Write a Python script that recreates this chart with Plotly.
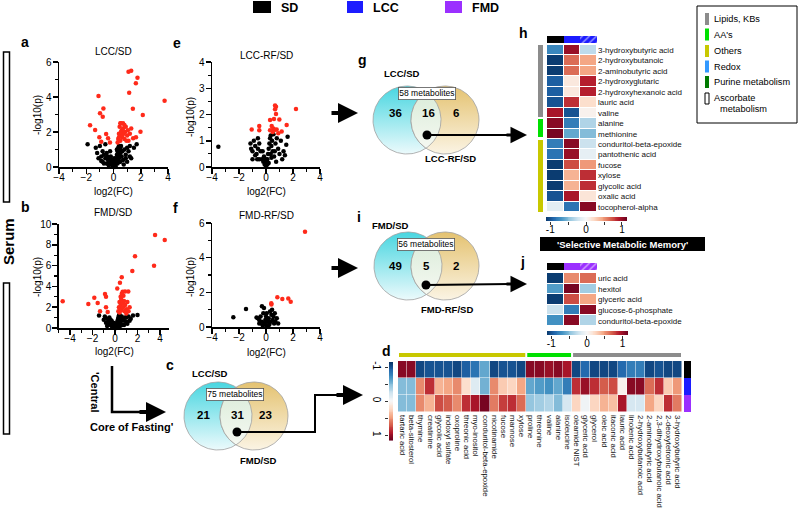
import numpy as np
import plotly.graph_objects as go

W, H = 798, 511
FONT = "Liberation Sans, Arial, sans-serif"

# ---------------- data ----------------
# volcano a: LCC/SD  (log2FC, -log10 p)
a_red = [(1.1,5.45),(1.3,5.5),(1.76,5.1),(1.64,4.78),(1.15,4.25),(3.75,3.79),(-1.1,4.06),(-0.74,3.35),
         (-0.99,3.07),(-0.79,2.87),(1.42,3.33),(2.15,2.97),(-1.72,2.38),(-1.35,2.11),(-0.54,1.89),(-1.04,1.70),
         (-0.4,1.65),(-0.9,1.45),(-0.26,1.4),(1.98,2.02),(1.65,1.7),(1.44,1.65),(0.3,1.4),(0.35,1.6),(0.4,1.9),
         (0.45,2.3),(0.5,2.5),(0.55,2.5),(0.6,2.1),(0.65,1.7),(0.7,2.2),(0.75,1.9),(0.8,1.6),(0.85,2.0),(0.9,2.3),
         (1.0,1.8),(1.05,2.1),(1.1,1.5),(0.5,1.5),(0.6,1.8),(0.7,2.5),(0.95,1.5),(1.2,1.9),(0.4,1.7),(0.55,2.0),
         (0.8,2.4),(1.3,2.2)]
a_black = [(-1.9,1.3),(-1.3,1.1),(-1.0,1.2),(-0.8,0.9),(-0.7,0.7),(-0.9,0.6),(-1.1,0.5),(-0.6,0.5),(-0.5,0.8),
           (-0.4,0.4),(-0.3,0.3),(-0.2,0.2),(-0.1,0.1),(0.0,0.05),(0.05,0.1),(0.1,0.15),(0.15,0.3),(0.2,0.5),
           (0.25,0.7),(0.3,0.9),(0.35,1.1),(0.4,1.2),(0.45,1.0),(0.5,0.8),(0.55,1.2),(0.6,0.6),(0.7,0.4),(0.8,1.0),
           (0.9,0.7),(1.0,0.3),(1.1,0.9),(1.2,0.6),(1.3,0.5),(1.5,1.1),(1.7,1.3),(1.2,1.2),(-0.6,1.3),(-0.2,0.6),
           (-0.35,0.1),(0.15,0.05),(-0.15,0.4),(0.2,0.2),(0.1,0.4),(0.3,0.5),(-0.5,0.2),(-0.8,0.3),(-1.2,0.8),
           (0.45,0.3),(0.65,0.9),(1.0,1.1),(-0.05,0.25),(0.25,1.0),(0.35,0.6),(0.05,0.5),(-0.25,0.9),(0.1,0.0),
           (0.0,0.2),(-0.1,0.3),(0.2,0.35),(0.3,0.2),(0.4,0.5),(0.5,0.3),(-0.3,0.5),(-0.45,0.6),(0.6,0.9),
           (0.35,0.8),(0.5,1.1),(0.42,0.95),(-0.7,0.2),(-0.9,0.35),(0.75,0.15),(0.9,0.5)]
# volcano b: FMD/SD
b_red = [(3.56,8.94),(4.42,8.46),(1.78,6.9),(3.47,5.99),(1.54,5.48),(0.6,4.87),(0.44,4.35),(0.2,3.81),
         (0.68,3.49),(0.89,3.5),(1.18,3.5),(-0.89,3.27),(-0.8,3.0),(-1.84,2.9),(-2.37,2.3),(-1.54,2.4),
         (-1.33,1.6),(-0.8,2.0),(-0.65,1.55),(-4.65,2.58),(0.3,1.6),(0.35,2.0),(0.4,2.5),(0.45,1.8),(0.5,2.2),
         (0.55,2.8),(0.6,1.7),(0.65,2.4),(0.7,2.0),(0.8,2.6),(0.85,1.6),(0.9,2.2),(1.0,1.8),(1.1,2.5),(1.2,1.6),
         (0.5,3.0),(0.75,3.1),(0.4,1.5),(1.3,2.0),(0.6,3.3),(1.0,1.4)]
b_black = [(2.0,1.25),(-1.42,1.2),(-0.9,1.1),(-0.7,0.9),(-0.6,0.6),(-0.5,0.4),(-0.4,0.3),(-0.3,0.2),(-0.2,0.1),
           (-0.1,0.05),(0.0,0.1),(0.1,0.2),(0.15,0.4),(0.2,0.6),(0.25,0.8),(0.3,1.0),(0.35,1.2),(0.4,0.7),
           (0.5,0.5),(0.6,1.1),(0.7,0.8),(0.8,0.3),(0.9,1.0),(1.0,0.6),(1.2,1.1),(1.4,0.9),(1.6,1.2),(-0.8,0.5),
           (-0.3,0.7),(0.05,0.3),(-0.15,0.5),(0.45,0.2),(-0.5,1.0),(0.2,0.15),(1.1,0.4),(-0.05,0.2),(0.3,0.4),
           (0.65,0.3),(1.3,0.7),(-0.7,0.2),(0.1,0.0),(0.0,0.4),(-0.2,0.3),(0.25,0.3),(0.4,1.3),(0.55,0.9),
           (-0.4,0.8),(0.8,0.7),(1.0,1.0),(-1.0,0.8)]
# volcano e: LCC-RF/SD
e_red = [(2.22,2.21),(0.67,2.34),(0.74,2.3),(0.67,2.2),(0.74,2.02),(0.59,1.83),(0.99,1.81),(0.3,1.79),
         (1.53,1.6),(-0.5,1.56),(-0.5,1.4),(-1.06,1.43),(0.42,1.56),(0.54,1.47),(0.67,1.42),(0.79,1.43),
         (1.16,1.35),(0.91,1.29),(0.3,1.4),(0.5,1.33)]
e_black = [(-3.53,0.77),(-1.1,0.7),(-1.0,0.6),(-0.9,1.0),(-0.8,0.8),(-0.7,0.5),(-0.6,1.1),(-0.5,0.9),(-1.0,0.3),
           (-0.8,0.45),(-0.6,0.7),(-0.4,0.6),(-0.3,0.3),(-0.2,0.2),(-0.1,0.1),(0.0,0.05),(0.05,0.2),(0.1,0.3),
           (0.15,0.5),(0.2,0.7),(0.25,0.9),(0.3,1.1),(0.35,1.2),(0.4,0.8),(0.45,1.0),(0.5,0.6),(0.6,0.4),
           (0.7,0.9),(0.8,1.1),(0.9,0.7),(1.0,0.5),(1.2,0.3),(1.4,0.45),(1.5,0.85),(1.6,1.15),(1.1,1.0),
           (-0.15,0.4),(0.0,0.3),(0.2,0.15),(-0.5,0.3),(0.55,1.25),(-0.25,0.6),(0.35,0.5),(0.75,0.2),
           (-1.15,0.9),(-0.65,0.3),(1.3,0.6),(0.1,0.1),(-0.05,0.15),(0.4,0.35),(0.65,0.6)]
# volcano f: FMD-RF/SD
f_red = [(2.89,5.5),(0.84,1.71),(1.21,1.62),(1.65,1.65),(1.83,1.46),(0.39,1.37),(0.4,1.3)]
f_black = [(-2.42,0.56),(-1.48,1.04),(-0.6,0.5),(-0.5,0.4),(-0.4,0.6),(-0.3,0.3),(-0.2,0.8),(-0.1,0.2),
           (0.0,0.1),(0.1,0.3),(0.2,0.5),(0.3,0.9),(0.4,0.7),(0.5,0.4),(0.6,0.2),(0.7,0.3),(0.8,0.5),
           (-0.15,1.1),(-0.3,1.2),(0.0,0.6),(-0.5,0.2),(0.25,0.15),(0.35,0.3),(-0.05,0.4),(0.15,0.05),
           (0.45,1.0),(-0.7,0.55),(0.05,0.8),(-0.25,0.1),(0.55,0.6),(0.9,0.2),(0.65,0.8)]

# heatmap h (SD, LCC, LCC-RF)
h_rows = ["3-hydroxybutyric acid","2-hydroxybutanoic","2-aminobutyric acid","2-hydroxyglutaric",
          "2-hydroxyhexanoic acid","lauric acid","valine","alanine","methionine","conduritol-beta-epoxide",
          "pantothenic acid","fucose","xylose","glycolic acid","oxalic acid","tocopherol-alpha"]
h_sd    = [-0.75,-1.1,-1.1,-0.95,-0.95,-1.0,0.95,1.05,1.1,-0.8,-0.85,-1.1,-1.1,-1.1,-1.0,-0.12]
h_lcc   = [1.0,0.65,0.65,0.12,0.12,0.85,-1.0,-0.8,-0.6,1.05,1.0,0.75,0.4,0.4,0.95,-0.85]
h_lccrf = [-0.3,0.45,0.45,0.9,0.9,0.2,0.05,-0.35,-0.5,-0.25,-0.1,0.5,0.85,0.85,0.15,1.05]

# heatmap j (SD, FMD, FMD-RF)
j_rows = ["uric acid","hexitol","glyceric acid","glucose-6-phosphate","conduritol-beta-epoxide"]
j_sd    = [-1.1,-0.65,-1.1,-0.25,-0.7]
j_fmd   = [0.55,1.1,0.75,-0.8,1.05]
j_fmdrf = [0.65,-0.4,0.45,1.05,-0.35]

# heatmap d (SD, LCC, FMD)
d_cols = ["tartaric acid","beta-sitosterol","thymine","creatinine","glycolic acid","indoxyl sulfate",
          "oxoproline","threonic acid","myo-inositol","conduritol-beta-epoxide","nicotinamide","fucose",
          "mannose","xylose","proline","threonine","valine","alanine","isoleucine","oleamide NIST",
          "glyceric acid","glycerol","oleic acid","itaconic acid","lauric acid","linolenic acid",
          "2-hydroxybutanoic acid","2-aminobutyric acid","2,3-dihydroxybutanoic acid",
          "2-deoxytetronic acid","3-hydroxybutyric acid"]
d_sd  = [1.05,1.05,-1.05,-1.0,-1.0,-1.0,-1.05,-0.95,-0.85,-0.6,-1.05,-1.0,-1.0,-1.05,1.05,1.05,1.0,1.05,
         0.95,-1.05,-0.9,-1.05,-1.05,-1.05,-0.9,-0.8,-0.8,-1.05,-1.0,-1.05,-1.05]
d_lcc = [-0.5,-0.5,0.55,0.85,0.4,0.45,0.55,0.2,-0.15,-0.55,0.55,0.3,0.25,0.45,-0.6,-0.65,-0.7,-0.6,-0.8,
         0.85,1.0,0.85,0.7,0.75,0.05,1.05,1.05,0.65,0.85,0.3,0.5]
d_fmd = [-0.5,-0.5,0.55,0.4,0.75,0.7,0.55,0.85,0.95,1.1,0.6,0.8,0.85,0.65,-0.45,-0.4,-0.35,-0.5,-0.2,
         0.25,-0.05,0.25,0.4,0.35,0.95,-0.2,-0.2,0.45,0.25,0.85,0.6]
d_groups = [("Others", 14), ("AA's", 5), ("Lipids, KBs", 12)]

legend_items = ["Lipids, KBs", "AA's", "Others", "Redox", "Purine metabolism", "Ascorbate"]
venn_g = ("LCC/SD", "LCC-RF/SD", "58 metabolites", "36", "16", "6")
venn_i = ("FMD/SD", "FMD-RF/SD", "56 metabolites", "49", "5", "2")
venn_c = ("LCC/SD", "FMD/SD", "75 metabolites", "21", "31", "23")

# ---------------- styling ----------------
C_SD, C_LCC, C_FMD = "#000000", "#1c1cff", "#9b30ff"
C_LIP, C_AA, C_OTH, C_RED, C_PUR = "#8c8c8c", "#00e000", "#c8c800", "#3399ff", "#007a00"
CS = [[0,'#053061'],[0.1,'#2166ac'],[0.2,'#4393c3'],[0.3,'#92c5de'],[0.4,'#d1e5f0'],[0.5,'#f7f7f7'],
      [0.6,'#fddbc7'],[0.7,'#f4a582'],[0.8,'#d6604d'],[0.9,'#b2182b'],[1,'#67001f']]
ZMIN, ZMAX = -1.15, 1.15

def xd(x0, x1):
    return [x0 / W, x1 / W]

def yd(y0, y1):
    return [1 - y1 / H, 1 - y0 / H]

fig = go.Figure()
layout = {}
OV = dict(xaxis='x13', yaxis='y13')

def akey(kind, i):
    return f"{kind}axis" if i == 1 else f"{kind}axis{i}"

def aref(kind, i):
    return kind if i == 1 else f"{kind}{i}"

axis_common = dict(showline=True, linecolor='black', linewidth=1.5, ticks='outside', ticklen=5,
                   tickwidth=1.5, tickcolor='black', showgrid=False, zeroline=False,
                   tickfont=dict(size=10, color='black', family=FONT), automargin=False, fixedrange=True)

def volcano(i, red, black, xbox, ybox, xr, yr, ydt):
    xa, ya = aref('x', i), aref('y', i)
    for pts, col in ((black, 'black'), (red, '#ff2a1a')):
        fig.add_trace(go.Scatter(x=[p[0] for p in pts], y=[p[1] for p in pts], mode='markers',
                                 marker=dict(size=4.5, color=col, line=dict(width=0)),
                                 xaxis=xa, yaxis=ya, showlegend=False, hoverinfo='skip', cliponaxis=False))
    layout[akey('x', i)] = dict(domain=xd(*xbox), range=xr, anchor=ya, tick0=0, dtick=2, ticklabelstandoff=-5,
                                minor=dict(dtick=1, ticks='outside', ticklen=3, tickcolor='black', tickwidth=1.2),
                                **axis_common)
    layout[akey('y', i)] = dict(domain=yd(*ybox), range=yr, anchor=xa, tick0=0, dtick=ydt, ticklabelstandoff=-1,
                                minor=dict(dtick=ydt / 2, ticks='outside', ticklen=3, tickcolor='black', tickwidth=1.2),
                                **axis_common)

volcano(1, a_red, a_black, (59, 168), (62, 167), [-4, 4], [0, 6], 2)
volcano(2, b_red, b_black, (58.75, 169), (224, 328), [-5, 4.8], [0, 10], 2)
volcano(3, e_red, e_black, (212, 320), (62, 167), [-4, 4], [0, 4], 1)
volcano(4, f_red, f_black, (212, 320), (223, 327), [-4, 4], [0, 6], 2)

hidden = dict(visible=False, fixedrange=True, showgrid=False, zeroline=False, automargin=False)

def heat_block(i, rows, cols_vals, xbox, ybox):
    z = [list(v) for v in zip(*cols_vals)]
    fig.add_trace(go.Heatmap(z=z, x=list(range(len(cols_vals))), y=rows, colorscale=CS, zmin=ZMIN, zmax=ZMAX,
                             showscale=False, xgap=1, ygap=1, xaxis=aref('x', i), yaxis=aref('y', i),
                             hoverinfo='skip'))
    layout[akey('x', i)] = dict(domain=xd(*xbox), anchor=aref('y', i), range=[-0.5, len(cols_vals) - 0.5], **hidden)
    layout[akey('y', i)] = dict(domain=yd(*ybox), anchor=aref('x', i), autorange='reversed', side='right',
                                showticklabels=True, ticks='', showline=False, showgrid=False, zeroline=False,
                                tickfont=dict(size=8, color='#111', family=FONT), automargin=False,
                                fixedrange=True, ticklabelstandoff=0)

def band(i, colors, xbox, ybox):
    fig.add_trace(go.Bar(x=[0, 1, 2], y=[1, 1, 1], width=1, showlegend=False, hoverinfo='skip',
                         marker=dict(color=colors, line=dict(width=0),
                                     pattern=dict(shape=['', '', '/'], fillmode='overlay', size=5, solidity=0.3)),
                         xaxis=aref('x', i), yaxis=aref('y', i)))
    layout[akey('x', i)] = dict(domain=xd(*xbox), anchor=aref('y', i), range=[-0.5, 2.5], **hidden)
    layout[akey('y', i)] = dict(domain=yd(*ybox), anchor=aref('x', i), range=[0, 1], **hidden)

grad = np.linspace(ZMIN, ZMAX, 90)

def hbar(i, xbox, ybox, xr):
    fig.add_trace(go.Heatmap(z=[list(grad)], x=list(grad), y=[0], colorscale=CS, zmin=ZMIN, zmax=ZMAX,
                             showscale=False, xaxis=aref('x', i), yaxis=aref('y', i), hoverinfo='skip'))
    layout[akey('x', i)] = dict(domain=xd(*xbox), anchor=aref('y', i), range=xr, showline=False, showgrid=False,
                                zeroline=False, ticks='outside', ticklen=3, tickwidth=1, tickcolor='#333',
                                tickvals=[-1, -0.5, 0, 0.5, 1], ticktext=['-1', '', '0', '', '1'],
                                ticklabelstandoff=-4,
                                tickfont=dict(size=10, color='black', family=FONT), automargin=False, fixedrange=True)
    layout[akey('y', i)] = dict(domain=yd(*ybox), anchor=aref('x', i), range=[-0.5, 0.5], **hidden)

heat_block(5, h_rows, (h_sd, h_lcc, h_lccrf), (547, 597), (45, 212))
band(6, [C_SD, C_LCC, C_LCC], (547, 597), (36, 43))
hbar(7, (546, 627), (217, 221), [-1.12, 1.14])
heat_block(8, j_rows, (j_sd, j_fmd, j_fmdrf), (547, 597), (273, 326))
band(9, [C_SD, C_FMD, C_FMD], (547, 597), (263, 270))
hbar(10, (547, 628), (331, 335), [-1.12, 1.15])

# heatmap d
fig.add_trace(go.Heatmap(z=[d_sd, d_lcc, d_fmd], x=d_cols, y=['SD', 'LCC', 'FMD'], colorscale=CS, zmin=ZMIN,
                         zmax=ZMAX, showscale=False, xgap=0.5, ygap=0.5, xaxis='x11', yaxis='y11', hoverinfo='skip'))
layout['xaxis11'] = dict(domain=xd(398, 682), anchor='y11', tickangle=90, ticks='', showline=False, showgrid=False,
                         zeroline=False, tickfont=dict(size=7.8, color='#111', family=FONT), automargin=False,
                         fixedrange=True, ticklabelstandoff=2)
layout['yaxis11'] = dict(domain=yd(361, 412), anchor='x11', autorange='reversed', **hidden)

# vertical colorbar for d
fig.add_trace(go.Heatmap(z=[[g] for g in grad], x=[0], y=list(grad), colorscale=CS, zmin=ZMIN, zmax=ZMAX,
                         showscale=False, xaxis='x12', yaxis='y12', hoverinfo='skip'))
layout['xaxis12'] = dict(domain=xd(389, 393), anchor='y12', range=[-0.5, 0.5], **hidden)
layout['yaxis12'] = dict(domain=yd(362, 442), anchor='x12', range=[1.2, -1.15], side='left', showline=False,
                         showgrid=False, zeroline=False, ticks='outside', ticklen=3, tickcolor='#333',
                         tickvals=[-1, -0.5, 0, 0.5, 1], ticktext=['-1', '', '0', '', '1'], tickangle=90,
                         tickfont=dict(size=10, color='black', family=FONT), automargin=False, fixedrange=True)

# ---------------- overlay (pixel coordinates) ----------------
layout['xaxis13'] = dict(domain=[0, 1], range=[0, W], anchor='y13', **hidden)
layout['yaxis13'] = dict(domain=[0, 1], range=[H, 0], anchor='x13', **hidden)

def venn(cxL, cxR, cy, r):
    t = np.linspace(0, 2 * np.pi, 160)
    edge = dict(color='rgba(160,160,160,0.8)', width=1)
    fig.add_trace(go.Scatter(x=cxL + r * np.cos(t), y=cy + r * np.sin(t), mode='lines', fill='toself',
                             fillgradient=dict(type='vertical', start=cy - r, stop=cy + r,
                                               colorscale=[[0, 'rgb(72,214,224)'], [1, 'rgb(236,250,252)']]),
                             line=edge, showlegend=False, hoverinfo='skip', **OV))
    fig.add_trace(go.Scatter(x=cxR + r * np.cos(t), y=cy + r * np.sin(t), mode='lines', fill='toself',
                             fillgradient=dict(type='vertical', start=cy - r, stop=cy + r,
                                               colorscale=[[0, 'rgb(228,194,112)'], [1, 'rgb(251,244,228)']]),
                             line=edge, showlegend=False, hoverinfo='skip', **OV))
    alpha = np.arccos((cxR - cxL) / (2 * r))
    t1 = np.linspace(-alpha, alpha, 60)
    t2 = np.linspace(np.pi - alpha, np.pi + alpha, 60)
    lx = np.concatenate([cxL + r * np.cos(t1), cxR + r * np.cos(t2)])
    ly = np.concatenate([cy + r * np.sin(t1), cy + r * np.sin(t2)])
    fig.add_trace(go.Scatter(x=lx, y=ly, mode='lines', fill='toself',
                             fillgradient=dict(type='vertical', start=cy - r, stop=cy + r,
                                               colorscale=[[0, 'rgb(214,234,214)'], [1, 'rgb(248,250,244)']]),
                             line=edge, showlegend=False, hoverinfo='skip', **OV))

venn(407, 445, 120, 34)
venn(408, 445, 266, 34)
venn(218, 254, 416, 34)

def path(xs, ys, w=2):
    fig.add_trace(go.Scatter(x=xs, y=ys, mode='lines', line=dict(color='black', width=w), showlegend=False,
                             hoverinfo='skip', **OV))

path([427, 518], [135, 135])
path([426, 518], [285, 284])
path([237, 315, 315, 345], [432, 432, 395, 395])
path([112, 112, 145], [366, 412, 412], 2.5)
fig.add_trace(go.Scatter(x=[427, 426, 237], y=[135, 285, 432], mode='markers',
                         marker=dict(size=9, color='black', symbol='circle'), showlegend=False,
                         hoverinfo='skip', **OV))

ann = []

def txt(x, y, s, size=10, bold=False, color='black', xanchor='center', angle=0, **kw):
    ann.append(dict(x=x, y=y, xref='x13', yref='y13', text=f"<b>{s}</b>" if bold else s, showarrow=False,
                    font=dict(size=size, color=color, family=FONT), xanchor=xanchor, yanchor='middle',
                    textangle=angle, **kw))

def arrow(x0, y0, x1, y1, w=4, size=1.0):
    ann.append(dict(x=x1, y=y1, ax=x0, ay=y0, xref='x13', yref='y13', axref='x13', ayref='y13', text='',
                    showarrow=True, arrowhead=2, arrowwidth=w, arrowsize=size, arrowcolor='black'))

arrow(505, 135, 527, 135, 3, 1.1)
arrow(505, 284, 527, 284, 3, 1.1)
arrow(335, 395, 363, 395, 4, 1.0)
arrow(138, 412, 166, 412, 4, 1.0)
arrow(330, 113, 358, 113, 4, 1.0)
arrow(330, 268, 358, 268, 4, 1.0)

shapes = []

def rect(x0, y0, x1, y1, fill, line='rgba(0,0,0,0)', lw=0):
    shapes.append(dict(type='rect', xref='x13', yref='y13', x0=x0, y0=y0, x1=x1, y1=y1, fillcolor=fill,
                       line=dict(color=line, width=lw)))

# top legend
rect(253, 1, 271, 13, C_SD)
rect(347, 1, 363, 13, C_LCC)
rect(445, 1, 462, 13, C_FMD)
txt(279, 7.5, "SD", 12.5, True, xanchor='left')
txt(371, 7.5, "LCC", 12.5, True, xanchor='left')
txt(470, 7.5, "FMD", 12.5, True, xanchor='left')

# panel letters
for lt, x, y in [("a", 25, 42), ("b", 25, 207), ("e", 177, 43), ("f", 175, 208), ("g", 362, 60),
                 ("i", 359, 217), ("c", 170, 365), ("d", 386, 351), ("h", 523, 33), ("j", 522, 262)]:
    txt(x, y, lt, 14, True)

# volcano titles and axis labels
for s, x, y in [("LCC/SD", 113, 51), ("FMD/SD", 113, 212), ("LCC-RF/SD", 266, 55), ("FMD-RF/SD", 266, 215)]:
    txt(x, y, s, 10)
for x, y in [(113, 191), (114, 351), (266, 191), (266, 352)]:
    txt(x, y, "log2(FC)", 10)
for x, y in [(37, 115), (37, 277), (190, 117), (190, 277)]:
    txt(x, y, "-log10(p)", 10, angle=-90)

# venn labels
for (top, bot, box, n1, n2, n3), (xt, yt), (xb, yb), (xbox, ybox), (nx1, nx2, nx3, ny) in [
        (venn_g, (402, 73), (450, 158), (427, 93), (395, 428, 456, 113)),
        (venn_i, (390, 225), (447, 309), (426, 244), (395, 426, 456, 266)),
        (venn_c, (210, 373), (258, 460), (235, 394), (203, 237, 265, 415))]:
    txt(xt, yt, top, 9.5, True)
    txt(xb, yb, bot, 9.5, True)
    txt(xbox, ybox, box, 8.5, False, bordercolor='#555', borderwidth=0.8, bgcolor='white', borderpad=0.5)
    txt(nx1, ny, n1, 11.5, True)
    txt(nx2, ny, n2, 11.5, True)
    txt(nx3, ny, n3, 11.5, True)

txt(95, 392, "'Central", 11, True, angle=90)
txt(132, 427, "Core of Fasting'", 11, True)
txt(8, 242, "Serum", 15, True, angle=-90)

# serum bars
rect(3.5, 52, 9.5, 202, 'white', 'black', 1.5)
rect(3.5, 283, 9.5, 434, 'white', 'black', 1.5)

# legend box
rect(697, 6, 797, 123, 'rgba(0,0,0,0)', 'black', 1)
leg_cols = [C_LIP, C_AA, C_OTH, C_RED, C_PUR, 'white']
leg_y = [19, 34.5, 51, 66.5, 82, 98]
for name, col, y in zip(legend_items, leg_cols, leg_y):
    if col == 'white':
        rect(705, y - 5, 709, y + 6, 'white', 'black', 1)
    else:
        rect(705, y - 6, 709, y + 6, col)
    txt(712, y, name, 9.2, xanchor='left')
txt(718, 109, "metabolism", 9.2, xanchor='left')

# selective memory box
rect(540, 237, 705, 251, 'black')
txt(622, 244, "'Selective Metabolic Memory'", 9.5, True, color='white')

# h side bands
rect(538, 45, 543, 117, C_LIP)
rect(538, 119, 543, 137, C_AA)
rect(538, 140, 543, 212, C_OTH)

# d top bands (from group sizes)
gcol = {"Others": C_OTH, "AA's": C_AA, "Lipids, KBs": C_LIP}
cw = (682 - 398) / len(d_cols)
start = 0
for g, n in d_groups:
    rect(398 + start * cw + 1, 353, 398 + (start + n) * cw - 1, 357, gcol[g])
    start += n

# d right band
rect(684, 361, 691, 378, C_SD)
rect(684, 378, 691, 395, C_LCC)
rect(684, 395, 691, 412, C_FMD)

fig.update_layout(**layout)
fig.update_layout(width=W, height=H, margin=dict(l=0, r=0, t=0, b=0), paper_bgcolor='white',
                  plot_bgcolor='rgba(0,0,0,0)', showlegend=False, annotations=ann, shapes=shapes,
                  font=dict(family=FONT, color='black'), bargap=0)
fig.write_html("out.html", config={'displayModeBar': False, 'staticPlot': True},
               post_script="document.documentElement.style.margin='0';document.body.style.margin='0';"
                           "document.body.style.overflow='hidden';")
